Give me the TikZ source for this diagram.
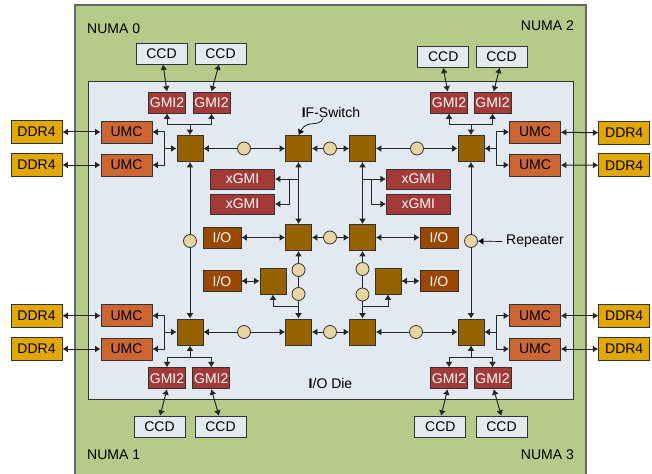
\documentclass[tikz,border=0pt]{standalone}
\usepackage{fontspec}
\setmainfont{Liberation Sans}
\usetikzlibrary{arrows.meta,calc}

\definecolor{numagreen}{HTML}{B5CB8A}
\definecolor{diefill}{HTML}{E2E9F0}
\definecolor{ccdfill}{HTML}{E3EBF1}
\definecolor{gmired}{HTML}{A33A37}
\definecolor{umcorange}{HTML}{CC6633}
\definecolor{ddrgold}{HTML}{E2A800}
\definecolor{iobrown}{HTML}{9A4800}
\definecolor{swbrown}{HTML}{966300}
\definecolor{repbeige}{HTML}{E9D5A1}

\begin{document}
\begin{tikzpicture}[x=1pt, y=-1pt, >={Latex[length=5.5pt,width=7pt]},
    every node/.style={font=\fontsize{14}{16}\selectfont, inner sep=0pt},
    box/.style={rectangle, draw=black!80, line width=0.8pt},
    ccdbox/.style={box, fill=ccdfill, minimum width=51pt, minimum height=21pt},
    gmibox/.style={box, fill=gmired, text=white, minimum width=37pt, minimum height=21pt},
    xgmibox/.style={box, fill=gmired, text=white, minimum width=64pt, minimum height=20pt},
    umcbox/.style={box, fill=umcorange, minimum width=51pt, minimum height=22pt},
    ddrbox/.style={box, fill=ddrgold, minimum width=51pt, minimum height=23pt},
    iobox/.style={box, fill=iobrown, text=white, minimum width=38pt, minimum height=21pt},
    swbox/.style={box, fill=swbrown, minimum size=26pt},
    rpt/.style={circle, draw=black!80, line width=0.8pt, fill=repbeige, minimum size=13pt},
    link/.style={line width=1pt, draw=black!85}]

    \useasboundingbox (0,0) rectangle (652,473);

    % background: NUMA area and the die
    \draw[fill=numagreen, draw=black!60, line width=1.2pt] (75,5) rectangle (586,480);
    \draw[fill=diefill, draw=black!80, line width=1pt] (88,82) rectangle (573,399);

    \node[anchor=west] (numa0) at (87,29) {NUMA 0};
    \node[anchor=east] (numa2) at (574,26) {NUMA 2};
    \node[anchor=west] (numa1) at (87,455) {NUMA 1};
    \node[anchor=east] (numa3) at (574,455) {NUMA 3};

    % CCDs
    \node[ccdbox] at (161.5,53.5) (ccd0a) {CCD};
    \node[ccdbox] at (220.5,53.5) (ccd0b) {CCD};
    \node[ccdbox] at (443.2,56.7) (ccd2a) {CCD};
    \node[ccdbox] at (501.5,56.7) (ccd2b) {CCD};
    \node[ccdbox] at (159.5,426.7) (ccd1a) {CCD};
    \node[ccdbox] at (220.5,426.7) (ccd1b) {CCD};
    \node[ccdbox] at (440.3,426.7) (ccd3a) {CCD};
    \node[ccdbox] at (501.5,426.7) (ccd3b) {CCD};

    % GMI2 links
    \node[gmibox] at (167,102.5) (gmi0a) {GMI2};
    \node[gmibox] at (211.5,102.5) (gmi0b) {GMI2};
    \node[gmibox] at (449,102.5) (gmi2a) {GMI2};
    \node[gmibox] at (492.5,102.5) (gmi2b) {GMI2};
    \node[gmibox] at (167,378.3) (gmi1a) {GMI2};
    \node[gmibox] at (211.3,378.3) (gmi1b) {GMI2};
    \node[gmibox] at (449,378.3) (gmi3a) {GMI2};
    \node[gmibox] at (492.5,378.3) (gmi3b) {GMI2};

    % memory controllers and DDR4
    \node[umcbox] at (126.5,132) (umc0a) {UMC};
    \node[umcbox] at (126.5,165) (umc0b) {UMC};
    \node[umcbox] at (535,132) (umc2a) {UMC};
    \node[umcbox] at (535,165) (umc2b) {UMC};
    \node[umcbox] at (126.5,315.7) (umc1a) {UMC};
    \node[umcbox] at (126.5,349) (umc1b) {UMC};
    \node[umcbox] at (535,315.7) (umc3a) {UMC};
    \node[umcbox] at (535,349) (umc3b) {UMC};
    \node[ddrbox] at (36.5,132) (ddr0a) {DDR4};
    \node[ddrbox] at (36.5,165) (ddr0b) {DDR4};
    \node[ddrbox] at (624.2,133) (ddr2a) {DDR4};
    \node[ddrbox] at (624.2,165.3) (ddr2b) {DDR4};
    \node[ddrbox] at (36.5,315.7) (ddr1a) {DDR4};
    \node[ddrbox] at (36.5,349) (ddr1b) {DDR4};
    \node[ddrbox] at (624.2,315.7) (ddr3a) {DDR4};
    \node[ddrbox] at (624.2,349) (ddr3b) {DDR4};

    % xGMI and I/O
    \node[xgmibox] at (242.5,179) (xgmiA) {xGMI};
    \node[xgmibox] at (242.5,204) (xgmiB) {xGMI};
    \node[xgmibox] at (418.3,179) (xgmiC) {xGMI};
    \node[xgmibox] at (418.3,204) (xgmiD) {xGMI};
    \node[iobox] at (222,237.5) (ioA) {I/O};
    \node[iobox] at (439,237.5) (ioB) {I/O};
    \node[iobox] at (222,281) (ioC) {I/O};
    \node[iobox] at (439,281) (ioD) {I/O};

    % switches
    \node[swbox] at (190,148.5) (sw0) {};
    \node[swbox] at (298.5,148.5) (swA) {};
    \node[swbox] at (362.5,148.5) (swB) {};
    \node[swbox] at (471,148.5) (sw2) {};
    \node[swbox] at (298.5,237.5) (swC) {};
    \node[swbox] at (362.5,237.5) (swD) {};
    \node[swbox] at (273,281) (swE) {};
    \node[swbox] at (388,281) (swF) {};
    \node[swbox] at (190,332) (sw1) {};
    \node[swbox] at (298.5,332) (swG) {};
    \node[swbox] at (362.5,332) (swH) {};
    \node[swbox] at (471,332) (sw3) {};

    % repeaters
    \node[rpt] at (244,148.5) (r1) {};
    \node[rpt] at (330,148.5) (r2) {};
    \node[rpt] at (417,148.5) (r3) {};
    \node[rpt] at (330,237.5) (r4) {};
    \node[rpt] at (190,241) (r5) {};
    \node[rpt] at (471,241) (r6) {};
    \node[rpt] at (298.5,270) (r7) {};
    \node[rpt] at (298.5,294) (r8) {};
    \node[rpt] at (362.5,269) (r9) {};
    \node[rpt] at (362.5,294.5) (r10) {};
    \node[rpt] at (244,332) (r11) {};
    \node[rpt] at (330,332) (r12) {};
    \node[rpt] at (416,332) (r13) {};

    % junction points
    \coordinate (t0) at (190,124.3);
    \coordinate (t2) at (471,124.3);
    \coordinate (t1) at (190,357);
    \coordinate (t3) at (471,357);
    \coordinate (u0) at (164,148.5);
    \coordinate (u2) at (496,148.5);
    \coordinate (u1) at (164,332);
    \coordinate (u3) at (496,332);
    \coordinate (jx1) at (298.5,179);
    \coordinate (jx2) at (289,179);
    \coordinate (jx3) at (362.5,179);
    \coordinate (jx4) at (371,179);
    \coordinate (jE) at (298.5,306);
    \coordinate (jF) at (362.5,306);

    % CCD <-> GMI2
    \draw[link, <->] ([xshift=1.5pt]ccd0a.south) -- (gmi0a.north);
    \draw[link, <->] ([xshift=-1.5pt]ccd0b.south) -- (gmi0b.north);
    \draw[link, <->] (ccd2a.south) -- ([xshift=-1.3pt]gmi2a.north);
    \draw[link, <->] ([xshift=-1.8pt]ccd2b.south) -- ([xshift=1.2pt]gmi2b.north);
    \draw[link, <->] (gmi1a.south) -- ([xshift=0.5pt]ccd1a.north);
    \draw[link, <->] (gmi1b.south) -- ([xshift=-1.5pt]ccd1b.north);
    \draw[link, <->] ([xshift=-1.3pt]gmi3a.south) -- ([xshift=0.7pt]ccd3a.north);
    \draw[link, <->] ([xshift=1.2pt]gmi3b.south) -- ([xshift=-0.2pt]ccd3b.north);

    % GMI2 <-> corner switches
    \foreach \n/\a/\b in {0/gmi0a/gmi0b, 2/gmi2a/gmi2b, 1/gmi1a/gmi1b, 3/gmi3a/gmi3b} {
        \draw[link, ->] (t\n) -- (sw\n);
        \draw[link, ->] (t\n) -| (\a);
        \draw[link, ->] (t\n) -| (\b);
    }

    % DDR4 <-> UMC <-> corner switches
    \foreach \n in {0,2,1,3} {
        \draw[link, <->] (ddr\n a) -- (umc\n a);
        \draw[link, <->] (ddr\n b) -- (umc\n b);
        \draw[link, ->] (u\n) -- (sw\n);
        \draw[link, ->] (u\n) |- (umc\n a);
        \draw[link, ->] (u\n) |- (umc\n b);
    }

    % rows through repeaters
    \draw[link, <-] (sw0) -- (r1);  \draw[link, ->] (r1) -- (swA);
    \draw[link, <-] (swA) -- (r2);  \draw[link, ->] (r2) -- (swB);
    \draw[link, <-] (swB) -- (r3);  \draw[link, ->] (r3) -- (sw2);
    \draw[link, <-] (swC) -- (r4);  \draw[link, ->] (r4) -- (swD);
    \draw[link, <-] (sw1) -- (r11); \draw[link, ->] (r11) -- (swG);
    \draw[link, <-] (swG) -- (r12); \draw[link, ->] (r12) -- (swH);
    \draw[link, <-] (swH) -- (r13); \draw[link, ->] (r13) -- (sw3);

    % columns
    \draw[link, <-] (sw0) -- (r5);  \draw[link, ->] (r5) -- (sw1);
    \draw[link, <-] (sw2) -- (r6);  \draw[link, ->] (r6) -- (sw3);
    \draw[link, <->] (swA) -- (swC);
    \draw[link, <->] (swB) -- (swD);
    \draw[link, <-] (swC) -- (r7);  \draw[link] (r7) -- (r8);  \draw[link, ->] (r8) -- (swG);
    \draw[link, <-] (swD) -- (r9);  \draw[link] (r9) -- (r10); \draw[link, ->] (r10) -- (swH);
    \draw[link, ->] (jE) -| (swE);
    \draw[link, ->] (jF) -| (swF);

    % xGMI and I/O
    \draw[link, ->] (jx1) -- (xgmiA);
    \draw[link, ->] (jx2) |- (xgmiB);
    \draw[link, ->] (jx3) -- (xgmiC);
    \draw[link, ->] (jx4) |- (xgmiD);
    \draw[link, <->] (ioA) -- (swC);
    \draw[link, <->] (swD) -- (ioB);
    \draw[link, <->] (ioC) -- (swE);
    \draw[link, <->] (swF) -- (ioD);

    % labels
    \node (iflbl) at (331,112) {\textbf{I}F-Switch};
    \draw[line width=0.7pt, ->] (323,118.5) .. controls (318,128) and (307,119) .. (swA.north);
    \node[anchor=west] (replbl) at (506,241.5) {Repeater};
    \draw[line width=0.7pt, ->] ([xshift=-4pt]replbl.west) -- (r6);
    \node (dielbl) at (330.5,383) {\textbf{I}/O Die};
\end{tikzpicture}
\end{document}
